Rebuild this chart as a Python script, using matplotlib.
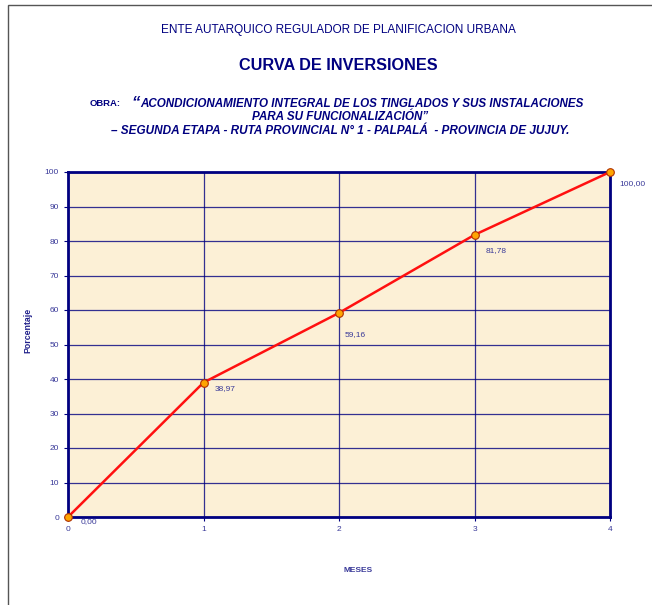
import matplotlib.pyplot as plt
from matplotlib.patches import Rectangle

plt.rcParams['font.family'] = ['Liberation Sans', 'DejaVu Sans']

# Data values
meses = [0, 1, 2, 3, 4]
porcentaje = [0.00, 38.97, 59.16, 81.78, 100.00]
etiquetas = ["0,00", "38,97", "59,16", "81,78", "100,00"]

# label offsets (points)
offsets = [(9, -1), (8, -2), (4, -13), (8, -9), (7, -6)]

navy = "#000080"
tick_col = "#3a3a99"

fig = plt.figure(figsize=(6.52, 6.05), dpi=100)

# page border
fig.add_artist(Rectangle((8 / 652, -0.1), 1.2, 1 - 5 / 605 + 0.1, transform=fig.transFigure,
                         fill=False, edgecolor="#555555", linewidth=1.0))

ax = fig.add_axes([68 / 652, 1 - 517 / 605, (610 - 68) / 652, (517 - 172) / 605])
ax.set_facecolor("#fcf0d6")

ax.plot(meses, porcentaje, color="#ff1010", linewidth=1.8, marker="o", markersize=5.5,
        markerfacecolor="#ffa500", markeredgecolor="#b03000", markeredgewidth=0.8,
        clip_on=False, zorder=5)

for x, y, t, off in zip(meses, porcentaje, etiquetas, offsets):
    ax.annotate(t, (x, y), xytext=off, textcoords="offset points", fontsize=6,
                color=tick_col, va="top", ha="left")

ax.set_xlim(0, 4)
ax.set_ylim(0, 100)
ax.set_xticks(meses)
ax.set_yticks(range(0, 101, 10))
ax.grid(True, color=navy, linewidth=0.9, alpha=0.8)
ax.set_axisbelow(True)
for s in ax.spines.values():
    s.set_color(navy)
    s.set_linewidth(2)
ax.tick_params(colors=navy, labelcolor=tick_col, labelsize=6, length=3, width=0.8)

ax.set_xlabel("MESES", fontsize=6, fontweight="bold", color=tick_col)
ax.set_ylabel("Porcentaje", fontsize=6.3, fontweight="bold", color="#20208a")
ax.xaxis.set_label_coords(0.535, -0.145)
ax.yaxis.set_label_coords(-0.066, 0.54)

# Titles
fig.text(338 / 652, 1 - 30 / 605, "ENTE AUTARQUICO REGULADOR DE PLANIFICACION URBANA",
         ha="center", va="center", fontsize=8.5, color=navy)
fig.text(338 / 652, 1 - 65 / 605, "CURVA DE INVERSIONES",
         ha="center", va="center", fontsize=11.7, fontweight="bold", color=navy)
fig.text(90 / 652, 1 - 104 / 605, "OBRA:", ha="left", va="center",
         fontsize=6.8, fontweight="bold", color=navy)
fig.text(131 / 652, 1 - 103 / 605, "\u201c", ha="left", va="center",
         fontsize=12, fontweight="bold", style="italic", color=navy)
fig.text(140 / 652, 1 - 104 / 605,
         "ACONDICIONAMIENTO INTEGRAL DE LOS TINGLADOS Y SUS INSTALACIONES",
         ha="left", va="center", fontsize=8.4, fontweight="bold", style="italic", color=navy)
fig.text(340 / 652, 1 - 117 / 605, "PARA SU FUNCIONALIZACI\u00d3N\u201d",
         ha="center", va="center", fontsize=8.4, fontweight="bold", style="italic", color=navy)
fig.text(340 / 652, 1 - 131 / 605,
         "\u2013 SEGUNDA ETAPA - RUTA PROVINCIAL N\u00b0 1 - PALPAL\u00c1  - PROVINCIA DE JUJUY.",
         ha="center", va="center", fontsize=8.5, fontweight="bold", style="italic", color=navy)

plt.savefig("out.png", dpi=100)
